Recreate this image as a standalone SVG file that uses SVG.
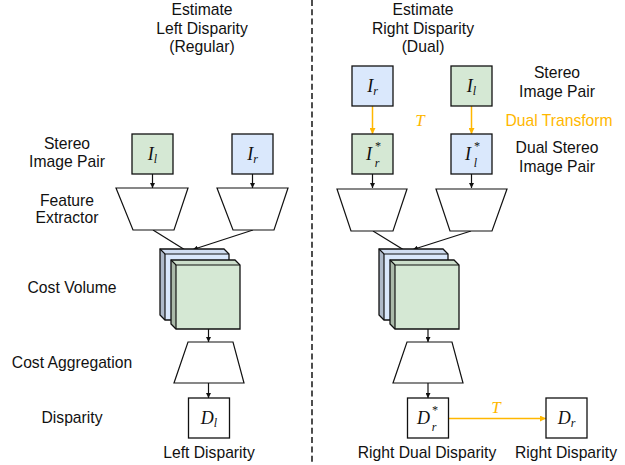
<svg xmlns="http://www.w3.org/2000/svg" width="625" height="465" viewBox="0 0 625 465">
  <defs>
    <style>
      .lbl { font-family: "Liberation Sans", Arial, sans-serif; font-size: 15.7px; fill: #111; text-anchor: middle; }
      .org { fill: #FFB700; }
      .math { font-family: "Liberation Serif", "Times New Roman", serif; font-style: italic; font-size: 18px; fill: #111; text-anchor: middle; }
      .math.sc { font-size: 12px; }
      .tlab { font-family: "Liberation Serif", "Times New Roman", serif; font-style: italic; font-size: 17px; fill: #FFB700; text-anchor: middle; }
      .box { stroke: #111; stroke-width: 1.3; }
      .green { fill: #d5e8d4; }
      .blue { fill: #dae8fc; }
      .white { fill: #ffffff; }
      .trap { fill: #ffffff; stroke: #111; stroke-width: 1.2; stroke-linejoin: miter; }
      .edge { stroke: #111; stroke-width: 1.2; fill: none; }
      .oedge { stroke: #FFB700; stroke-width: 1.5; fill: none; }
      .shade1 { fill: #000; fill-opacity: 0.04; }
      .shade2 { fill: #000; fill-opacity: 0.2; }
    </style>
    <marker id="arr" viewBox="0 0 10 10" refX="10" refY="5" markerWidth="5" markerHeight="5" orient="auto" markerUnits="userSpaceOnUse">
      <path d="M0,0 L10,5 L0,10 Z" fill="#111"/>
    </marker>
    <marker id="oarr" viewBox="0 0 10 10" refX="10" refY="5" markerWidth="6" markerHeight="6" orient="auto" markerUnits="userSpaceOnUse">
      <path d="M0,0 L10,5 L0,10 Z" fill="#FFB700"/>
    </marker>
  </defs>

  <!-- divider between the two pipelines -->
  <line x1="312" y1="0" x2="312" y2="465" stroke="#222" stroke-width="1.6" stroke-dasharray="6,3.3"/>

  <!-- column headings -->
  <g id="title-left">
    <text class="lbl" x="202" y="15">Estimate</text>
    <text class="lbl" x="202" y="33.5">Left Disparity</text>
    <text class="lbl" x="202" y="52">(Regular)</text>
  </g>
  <g id="title-right">
    <text class="lbl" x="423" y="15">Estimate</text>
    <text class="lbl" x="423" y="33.5">Right Disparity</text>
    <text class="lbl" x="423" y="52">(Dual)</text>
  </g>

  <!-- row labels -->
  <g id="row-labels">
    <text class="lbl" x="67" y="149">Stereo</text>
    <text class="lbl" x="67" y="167">Image Pair</text>
    <text class="lbl" x="67" y="206">Feature</text>
    <text class="lbl" x="67" y="223">Extractor</text>
    <text class="lbl" x="72" y="293">Cost Volume</text>
    <text class="lbl" x="72" y="368">Cost Aggregation</text>
    <text class="lbl" x="72" y="423">Disparity</text>
    <text class="lbl" x="557" y="78">Stereo</text>
    <text class="lbl" x="557" y="97">Image Pair</text>
    <text class="lbl org" x="559" y="126">Dual Transform</text>
    <text class="lbl" x="557" y="153">Dual Stereo</text>
    <text class="lbl" x="557" y="172">Image Pair</text>
  </g>

  <!-- connectors -->
  <g id="connectors">
    <line class="edge" x1="152.5" y1="174" x2="152.5" y2="188" marker-end="url(#arr)"/>
    <line class="edge" x1="252.5" y1="174" x2="252.5" y2="188" marker-end="url(#arr)"/>
    <line class="edge" x1="153" y1="230" x2="202" y2="260.5" marker-end="url(#arr)"/>
    <line class="edge" x1="253" y1="230" x2="193" y2="249.5" marker-end="url(#arr)"/>
    <line class="edge" x1="208.5" y1="329" x2="208.5" y2="342" marker-end="url(#arr)"/>
    <line class="edge" x1="208.5" y1="383" x2="208.5" y2="398" marker-end="url(#arr)"/>

    <line class="oedge" x1="372.5" y1="106" x2="372.5" y2="134" marker-end="url(#oarr)"/>
    <line class="oedge" x1="471.5" y1="106" x2="471.5" y2="134" marker-end="url(#oarr)"/>
    <line class="edge" x1="372.5" y1="174" x2="372.5" y2="188" marker-end="url(#arr)"/>
    <line class="edge" x1="471.5" y1="174" x2="471.5" y2="188" marker-end="url(#arr)"/>
    <line class="edge" x1="373" y1="231" x2="421" y2="260.5" marker-end="url(#arr)"/>
    <line class="edge" x1="471" y1="231" x2="413" y2="249.5" marker-end="url(#arr)"/>
    <line class="edge" x1="428" y1="329" x2="428" y2="342" marker-end="url(#arr)"/>
    <line class="edge" x1="428" y1="383" x2="428" y2="398" marker-end="url(#arr)"/>
    <line class="oedge" x1="448" y1="418.5" x2="546" y2="418.5" marker-end="url(#oarr)"/>
    <text class="tlab" x="420" y="126">T</text>
    <text class="tlab" x="496" y="413">T</text>
  </g>

  <!-- left pipeline -->
  <g id="left-il">
    <rect class="box green" x="132" y="134" width="41" height="40"/>
    <text class="math" x="152.5" y="160">I<tspan font-size="12" dy="3">l</tspan></text>
  </g>
  <g id="left-ir">
    <rect class="box blue" x="232" y="134" width="41" height="40"/>
    <text class="math" x="252.5" y="160">I<tspan font-size="12" dy="3">r</tspan></text>
  </g>
  <g id="left-fe-l">
    <polygon class="trap" points="116,188 188,188 174,230 133,230"/>
  </g>
  <g id="left-fe-r">
    <polygon class="trap" points="217,188 288,188 274,230 233,230"/>
  </g>
  <g id="left-cost-volume">
    <g>
      <polygon class="box blue" points="160,249 224,249 229,254 229,320 165,320 160,315"/>
      <polygon class="shade1" points="160,249 224,249 229,254 165,254"/>
      <polygon class="shade2" points="160,249 165,254 165,320 160,315"/>
      <polyline class="edge" points="160,249 165,254 229,254"/>
      <line class="edge" x1="165" y1="254" x2="165" y2="320"/>
    </g>
    <g>
      <polygon class="box green" points="171,260 235,260 240,265 240,329 176,329 171,324"/>
      <polygon class="shade1" points="171,260 235,260 240,265 176,265"/>
      <polygon class="shade2" points="171,260 176,265 176,329 171,324"/>
      <polyline class="edge" points="171,260 176,265 240,265"/>
      <line class="edge" x1="176" y1="265" x2="176" y2="329"/>
    </g>
  </g>
  <g id="left-aggregation">
    <polygon class="trap" points="188,342 233,342 244,383 174,383"/>
  </g>
  <g id="left-disparity">
    <rect class="box white" x="188.5" y="398" width="41" height="40"/>
    <text class="math" x="209" y="424">D<tspan font-size="12" dy="3">l</tspan></text>
    <text class="lbl" x="209" y="458">Left Disparity</text>
  </g>

  <!-- right pipeline -->
  <g id="right-ir">
    <rect class="box blue" x="352" y="66" width="41" height="40"/>
    <text class="math" x="372.5" y="92">I<tspan font-size="12" dy="3">r</tspan></text>
  </g>
  <g id="right-il">
    <rect class="box green" x="451" y="66" width="41" height="40"/>
    <text class="math" x="471.5" y="92">I<tspan font-size="12" dy="3">l</tspan></text>
  </g>
  <!-- starred symbols: base letter, superscript star, subscript stacked below it -->
  <g id="right-ir-dual">
    <rect class="box green" x="352" y="134" width="41" height="40"/>
    <text class="math" x="369" y="160">I</text>
    <text class="math sc" x="377.5" y="150">*</text>
    <text class="math sc" x="377" y="166.5">r</text>
  </g>
  <g id="right-il-dual">
    <rect class="box blue" x="451" y="134" width="41" height="40"/>
    <text class="math" x="468" y="160">I</text>
    <text class="math sc" x="476.5" y="150">*</text>
    <text class="math sc" x="475.5" y="166.5">l</text>
  </g>
  <g id="right-fe-l">
    <polygon class="trap" points="337,189 407,189 393,231 351,231"/>
  </g>
  <g id="right-fe-r">
    <polygon class="trap" points="436,189 507,189 492,231 450,231"/>
  </g>
  <g id="right-cost-volume">
    <g>
      <polygon class="box blue" points="379,249 443,249 448,254 448,320 384,320 379,315"/>
      <polygon class="shade1" points="379,249 443,249 448,254 384,254"/>
      <polygon class="shade2" points="379,249 384,254 384,320 379,315"/>
      <polyline class="edge" points="379,249 384,254 448,254"/>
      <line class="edge" x1="384" y1="254" x2="384" y2="320"/>
    </g>
    <g>
      <polygon class="box green" points="390,260 454,260 459,265 459,329 395,329 390,324"/>
      <polygon class="shade1" points="390,260 454,260 459,265 395,265"/>
      <polygon class="shade2" points="390,260 395,265 395,329 390,324"/>
      <polyline class="edge" points="390,260 395,265 459,265"/>
      <line class="edge" x1="395" y1="265" x2="395" y2="329"/>
    </g>
  </g>
  <g id="right-aggregation">
    <polygon class="trap" points="407,342 452,342 463,383 393,383"/>
  </g>
  <g id="right-dual-disparity">
    <rect class="box white" x="407.5" y="398" width="41" height="40"/>
    <text class="math" x="423.5" y="424">D</text>
    <text class="math sc" x="434.5" y="414">*</text>
    <text class="math sc" x="434" y="430.5">r</text>
    <text class="lbl" x="427" y="458">Right Dual Disparity</text>
  </g>
  <g id="right-disparity">
    <rect class="box white" x="546" y="398" width="41" height="40"/>
    <text class="math" x="566.5" y="424">D<tspan font-size="12" dy="3">r</tspan></text>
    <text class="lbl" x="566" y="458">Right Disparity</text>
  </g>
</svg>
